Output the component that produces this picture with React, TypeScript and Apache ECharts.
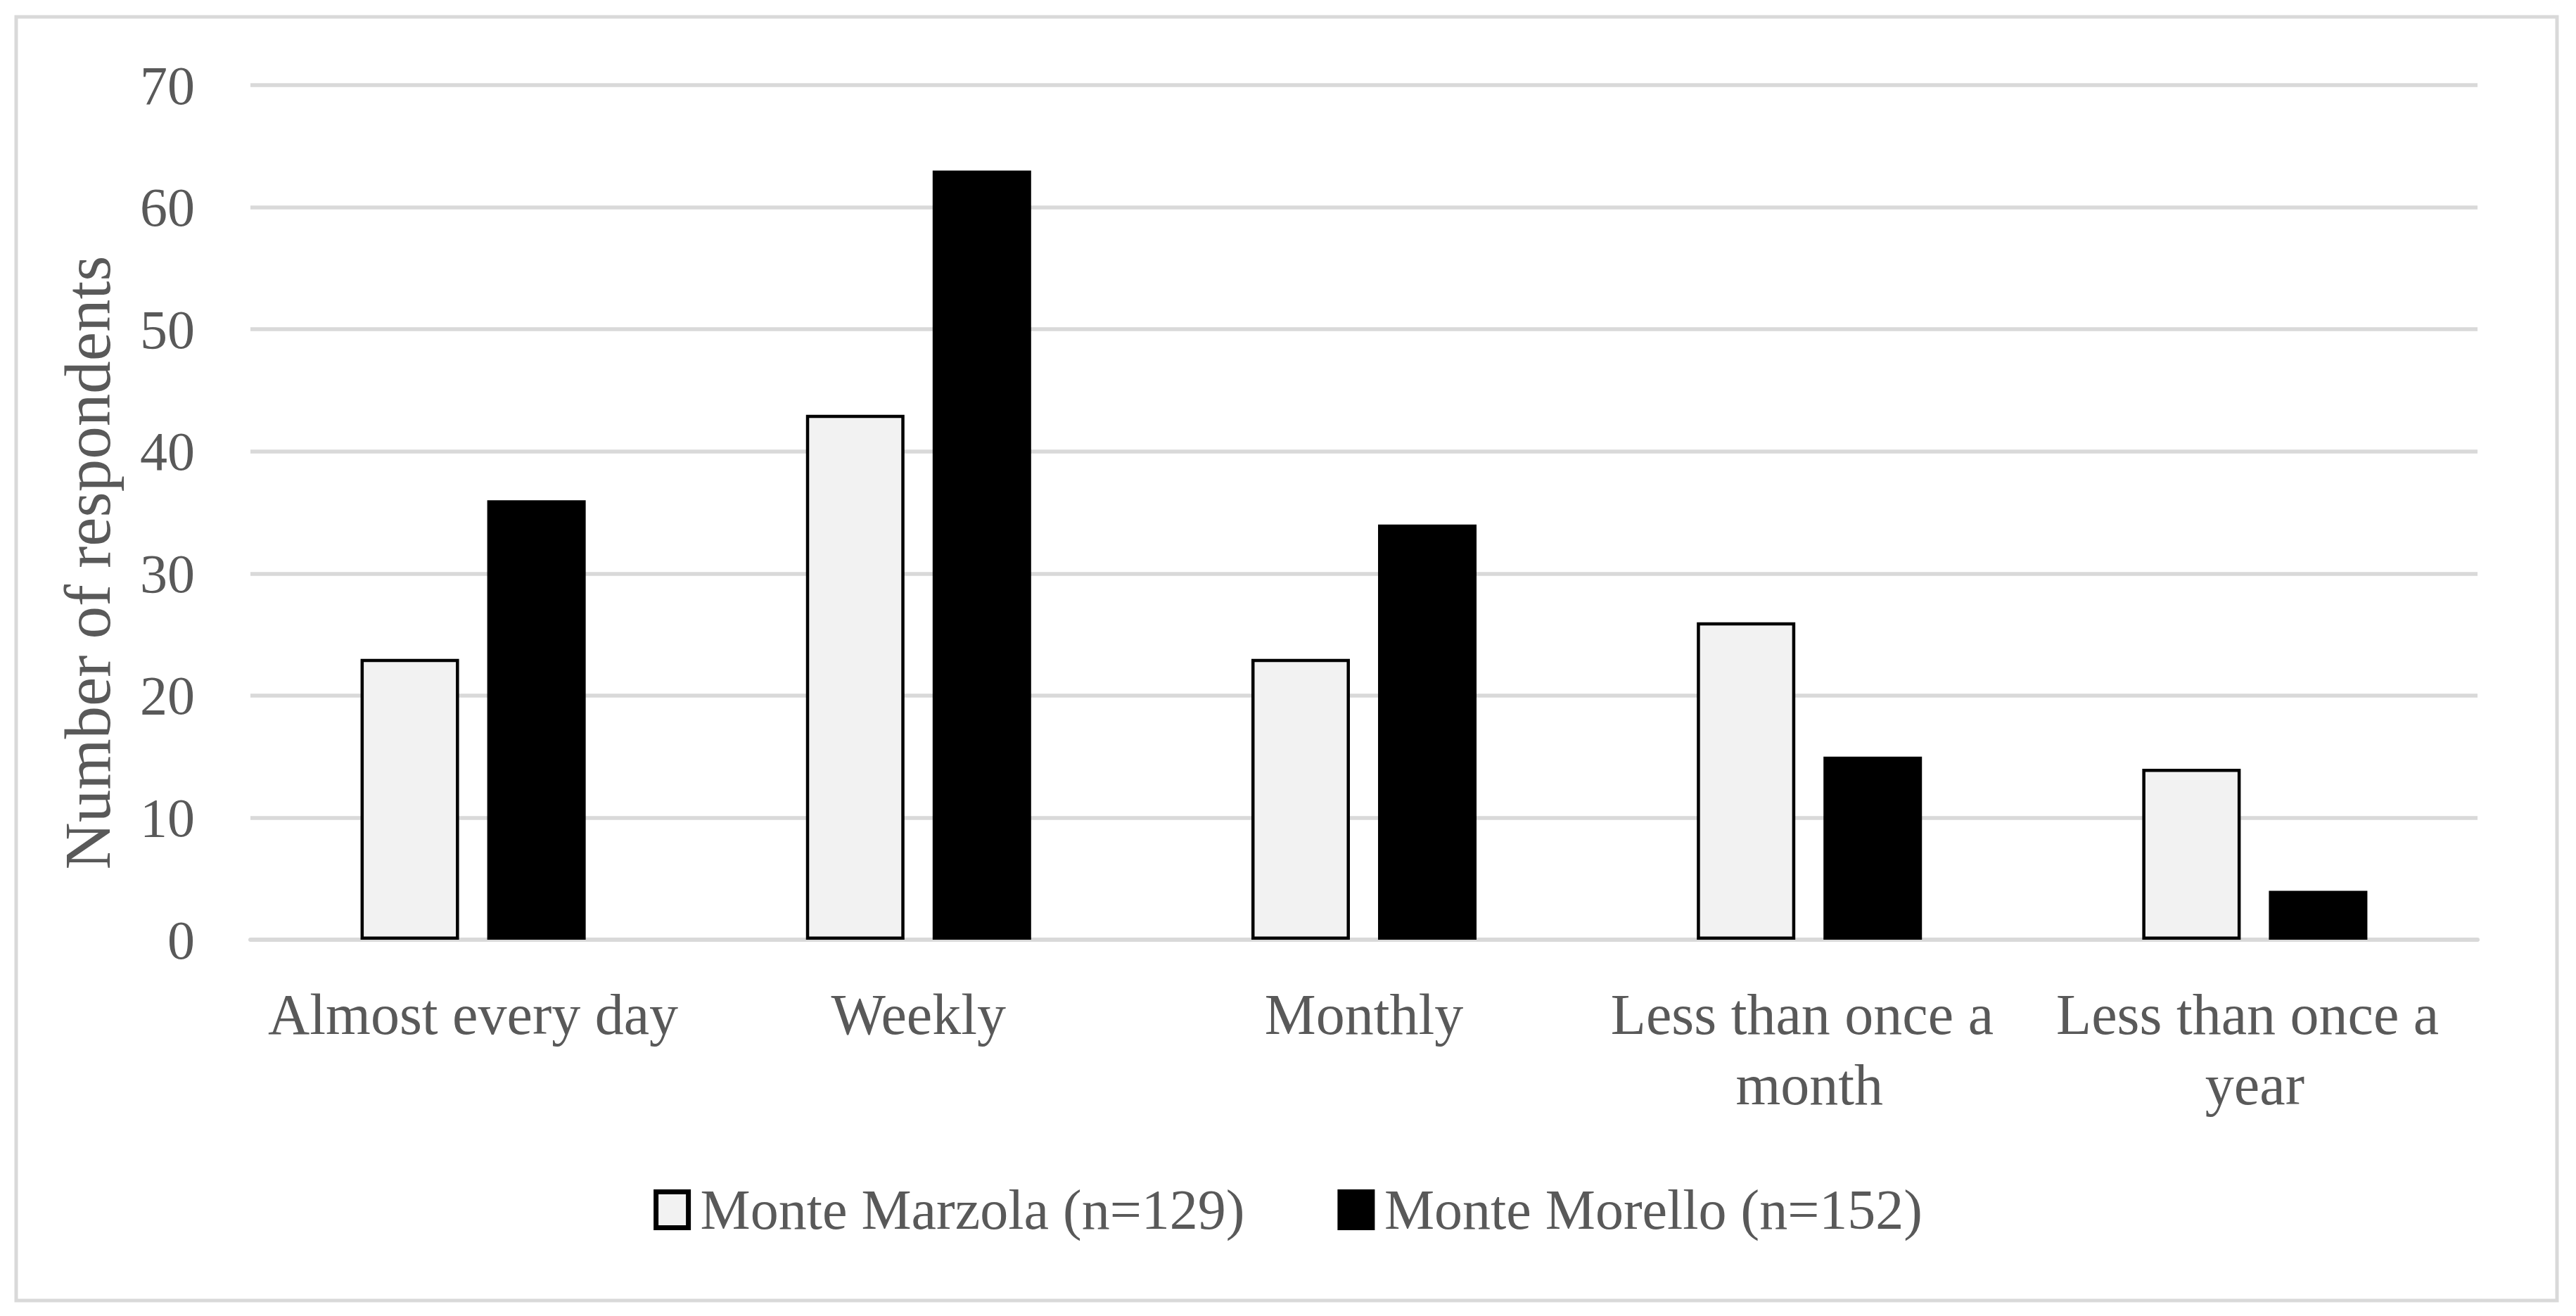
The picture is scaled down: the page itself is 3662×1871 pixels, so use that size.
import React, { useEffect, useRef } from "react";
import * as echarts from "echarts";

const categories = [
  "Almost every day",
  "Weekly",
  "Monthly",
  "Less than once a month",
  "Less than once a year",
];
const seriesNames = ["Monte Marzola (n=129)", "Monte Morello (n=152)"];
const marzola = [23, 43, 23, 26, 14];
const morello = [36, 63, 34, 15, 4];
const yTicks = { min: 0, max: 70, interval: 10 };
const yTitle = "Number of respondents";

const FONT = "'Liberation Serif', 'Times New Roman', serif";
const TEXT = "#595959";
const GRID = "#d9d9d9";

export default function App() {
  const ref = useRef<HTMLDivElement>(null);
  useEffect(() => {
    if (!ref.current) return;
    const chart = echarts.init(ref.current, undefined, { renderer: "svg" });
    chart.setOption({
      animation: false,
      backgroundColor: "#ffffff",
      textStyle: { fontFamily: FONT, color: TEXT },
      grid: { left: 356, right: 140, top: 121, bottom: 535 },
      xAxis: {
        type: "category",
        data: categories,
        axisLine: { show: true, lineStyle: { color: GRID, width: 6 } },
        axisTick: { show: false },
        axisLabel: {
          color: TEXT,
          fontFamily: FONT,
          fontSize: 82,
          lineHeight: 100,
          margin: 56,
          width: 610,
          overflow: "break",
          interval: 0,
        },
      },
      yAxis: {
        type: "value",
        min: yTicks.min,
        max: yTicks.max,
        interval: yTicks.interval,
        axisLine: { show: false },
        axisTick: { show: false },
        splitLine: { lineStyle: { color: GRID, width: 5.5 } },
        axisLabel: {
          color: TEXT,
          fontFamily: FONT,
          fontSize: 78,
          margin: 79,
        },
      },
      legend: {
        data: seriesNames,
        left: "center",
        top: 1675,
        icon: "rect",
        itemWidth: 46,
        itemHeight: 51,
        itemGap: 132,
        itemStyle: { borderColor: "#000000", borderWidth: 7 },
        textStyle: { color: TEXT, fontFamily: FONT, fontSize: 80, padding: [0, 0, 0, 12] },
      },
      graphic: [
        {
          type: "rect",
          shape: { x: 23, y: 24, width: 3612, height: 1825 },
          style: { fill: "none", stroke: GRID, lineWidth: 5 },
          silent: true,
        },
        {
          type: "text",
          x: 124,
          y: 800,
          rotation: Math.PI / 2,
          style: {
            text: yTitle,
            font: `93px ${FONT}`,
            fill: TEXT,
            textAlign: "center",
            textVerticalAlign: "middle",
          },
        },
      ],
      series: [
        {
          name: seriesNames[0],
          type: "bar",
          data: marzola,
          barWidth: 140,
          barGap: "28.6%",
          itemStyle: { color: "#f2f2f2", borderColor: "#000000", borderWidth: 4.5 },
        },
        {
          name: seriesNames[1],
          type: "bar",
          data: morello,
          barWidth: 140,
          itemStyle: { color: "#000000", borderColor: "#000000", borderWidth: 4 },
        },
      ],
    });
    return () => chart.dispose();
  }, []);
  return (
    <div
      ref={ref}
      style={{ position: "absolute", left: 0, top: 0, width: "3662px", height: "1871px" }}
    />
  );
}
